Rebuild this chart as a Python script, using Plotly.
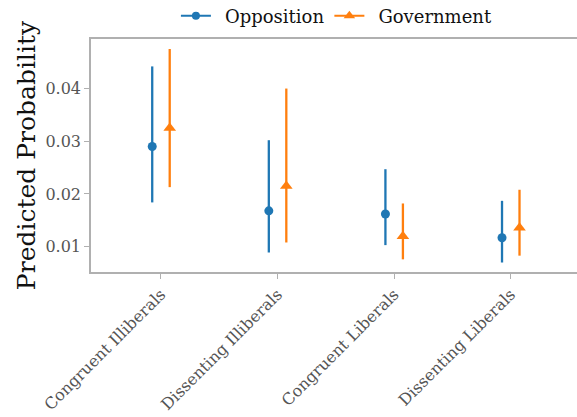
import plotly.graph_objects as go

categories = ["Congruent Illiberals", "Dissenting Illiberals", "Congruent Liberals", "Dissenting Liberals"]
opp_est = [0.0290, 0.0168, 0.0162, 0.0117]
opp_low = [0.0184, 0.0089, 0.0103, 0.0070]
opp_high = [0.0442, 0.0302, 0.0247, 0.0187]
gov_est = [0.0325, 0.0215, 0.0120, 0.0136]
gov_low = [0.0213, 0.0108, 0.0076, 0.0083]
gov_high = [0.0475, 0.0400, 0.0182, 0.0208]
y_ticks = [0.01, 0.02, 0.03, 0.04]

BLUE = "#1f77b4"
ORANGE = "#ff7f0e"
FONT = "DejaVu Serif"
offset = 0.075
idx = list(range(len(categories)))

fig = go.Figure()

def add_series(est, low, high, color, symbol, size, name, shift):
    xs = [i + shift for i in idx]
    fig.add_trace(go.Scatter(
        x=xs, y=est, mode="markers", showlegend=False,
        marker=dict(color=color, symbol=symbol, size=size),
        error_y=dict(type="data", symmetric=False,
                     array=[h - e for h, e in zip(high, est)],
                     arrayminus=[e - l for e, l in zip(est, low)],
                     color=color, thickness=2.3, width=0),
    ))
    fig.add_trace(go.Scatter(
        x=[None], y=[None], mode="lines+markers", name="\u2002" + name,
        line=dict(color=color, width=2),
        marker=dict(color=color, symbol=symbol, size=size - 1),
    ))

add_series(opp_est, opp_low, opp_high, BLUE, "circle", 9, "Opposition", -offset)
add_series(gov_est, gov_low, gov_high, ORANGE, "triangle-up", 11, "Government", offset)

fig.update_layout(
    width=577, height=417,
    margin=dict(l=91, r=0, t=39, b=145, autoexpand=False),
    paper_bgcolor="white", plot_bgcolor="white",
    font=dict(family=FONT, color="#555555", size=16),
    legend=dict(orientation="h", x=0.506, xanchor="center",
                yref="container", y=1 - 16 / 417, yanchor="middle",
                font=dict(family=FONT, size=18, color="#111111"),
                itemwidth=30, bgcolor="rgba(0,0,0,0)"),
    xaxis=dict(
        range=[-0.6, 3.568], tickmode="array", tickvals=idx, ticktext=categories,
        tickangle=-45, showgrid=False, zeroline=False, automargin=False,
        showline=True, linecolor="#b0b0b0", linewidth=1.5, mirror=True,
        ticks="outside", ticklen=5, tickcolor="#b0b0b0",
        tickfont=dict(family=FONT, size=16, color="#555555"),
    ),
    yaxis=dict(
        range=[0.0052, 0.0494], tickmode="array", tickvals=y_ticks,
        ticktext=[f"{v:.2f}" for v in y_ticks],
        showgrid=False, zeroline=False, automargin=False,
        showline=True, linecolor="#b0b0b0", linewidth=1.5,
        ticks="outside", ticklen=5, tickcolor="#b0b0b0",
        tickfont=dict(family=FONT, size=16, color="#555555"),
        title=dict(text="Predicted Probability", font=dict(family=FONT, size=25, color="#111111"), standoff=3),
    ),
)

fig.write_html("out.html", config={"displayModeBar": False},
               post_script="document.body.style.margin='0';document.body.style.overflow='hidden';")
